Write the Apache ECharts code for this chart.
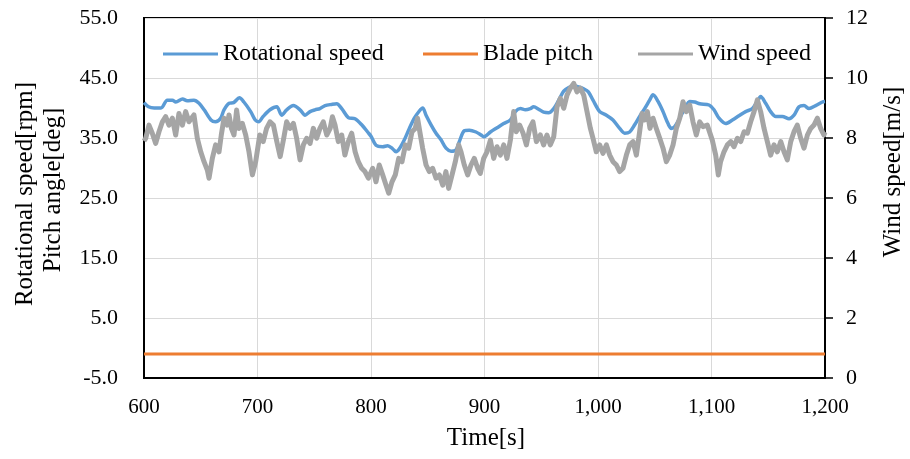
<!DOCTYPE html>
<html>
<head>
<meta charset="utf-8">
<script src="https://cdn.jsdelivr.net/npm/echarts@6/dist/echarts.min.js"></script>
<style>html,body{margin:0;padding:0;background:#fff;}#c{width:910px;height:459px;}</style>
</head>
<body>
<div id="c"></div>
<script>
// ---- data ----
var xTicks = [600, 700, 800, 900, 1000, 1100, 1200];
var leftTicks = [-5, 5, 15, 25, 35, 45, 55];
var rightTicks = [0, 2, 4, 6, 8, 10, 12];

var rotTime = [600,604,609,615,620.5,625,628,634,638,644,648.5,653,659,663,667.5,670.5,675,679,684,688,694,698,701,705,711,717,721.3,725.7,731.6,737.5,741.9,746.3,750.7,755,759.5,765.4,769.8,774.2,780,785.9,791.8,797,800,804.4,810.3,814.7,819.1,822,825,829.4,833.8,838.2,842.6,845.5,848.5,852.9,857.3,861.7,866.1,870.5,874.9,877.8,882.2,886.6,892.5,897,899.3,905.2,911,916.9,922.8,927.2,931.6,936,940.4,943.3,947.7,952.1,956.5,961,965.4,969.8,974.2,978.6,983,987.4,991.5,995.6,1001.5,1007.4,1013.2,1019.1,1023.5,1027.9,1032.3,1036.7,1041.1,1045.5,1048.5,1052.9,1057.3,1061.7,1064.6,1067.6,1072,1076.4,1080.8,1085.2,1089.6,1097.8,1102.2,1106.6,1112.5,1118.4,1124.2,1130.1,1136,1140.4,1143.3,1147.7,1152.1,1156.6,1162.4,1168.3,1172.7,1177.1,1181.5,1185.9,1191.8,1197.7,1200];
var rotSpeed = [40.9,40.2,40.0,40.0,41.3,41.3,41.0,41.5,41.2,41.3,40.8,39.7,38.0,37.7,38.3,39.7,40.8,40.9,41.7,41.0,39.4,38.0,37.7,38.6,39.7,40.2,38.8,39.7,40.4,39.7,38.8,39.4,39.7,39.9,40.4,40.6,40.7,39.9,38.4,38.2,37.2,36.0,35.3,33.8,33.55,33.7,33.2,32.7,33.2,34.7,36.6,38.3,39.5,40.0,38.8,37.2,35.8,34.7,33.3,32.8,33.0,34.4,36.2,36.3,36.0,35.5,35.2,36.0,36.7,37.4,38.0,39.4,39.9,39.7,39.9,40.2,39.8,39.3,39.2,39.9,41.3,42.8,43.4,43.7,43.5,43.2,42.7,41.3,39.4,38.8,38.0,36.6,35.8,36.0,37.2,38.6,39.9,41.3,42.2,41.1,39.4,37.4,36.6,36.9,38.3,39.9,41.1,41.0,40.7,40.5,39.7,38.3,37.4,38.0,38.7,39.4,39.9,41.1,41.9,40.8,39.4,38.6,38.6,38.2,38.8,40.2,40.4,39.9,40.4,41.0,41.1];

var pitchTime = [600, 700, 800, 900, 1000, 1100, 1200];
var pitchAngle = [-1.0, -1.0, -1.0, -1.0, -1.0, -1.0, -1.0];

var windTime = [600,601.5,604.4,607.3,610.3,613.2,616.2,619.1,622,625,627.9,630.8,633.8,636.7,639.6,644,647,650,652.9,655.8,657.3,660.2,663.1,666.1,668.1,670.5,673.4,674.9,677,679.3,681.6,683.7,686.6,689.6,692.5,695.5,698.4,702,705,708,711,714,717,720,722.8,725.7,728.6,731.6,734.5,737.5,740.4,743.3,746.3,749.2,752.1,755,758,761,764,766,768.3,771.2,774.2,777,780,783,786,788.8,791.8,794.7,797.7,801.5,804.4,807.3,810.3,813.2,815.6,818.5,821.4,824.4,827.3,830.3,833.2,836.1,839,841,843.5,845.5,848.5,851.4,854.3,857.3,860.2,863.2,866,868.4,871.4,874.3,877.2,879.3,882.2,885.2,888.1,891,894,896.3,899.3,902.2,905.2,908.1,911,914,916.9,919.8,922.8,925.7,928,931,934,936.9,939.8,942.7,945.7,949.2,952.1,955,958,961,963.9,966.8,969.8,972.7,975.6,978.6,981.5,984.5,987.4,990.3,993.3,995.6,998.5,1001.5,1004.4,1007.4,1010.3,1013.2,1016.2,1019.1,1022,1025,1027.9,1030.9,1033.8,1036.7,1038.8,1041.1,1043.5,1045.8,1048.5,1051.4,1054.4,1057.3,1060.2,1063.2,1066.1,1069,1072,1074.9,1077.8,1080.8,1083.7,1086.6,1089.6,1092.5,1096.3,1100.7,1103.7,1106,1108,1111,1114,1117,1119.8,1122.8,1125.7,1128.7,1131.6,1134.5,1137.5,1140.4,1143.3,1146.3,1149.2,1152.1,1155.1,1158,1161,1163.9,1166.8,1169.8,1172.7,1175.6,1178.6,1181.5,1184.5,1187.4,1190.3,1193.3,1196.2,1199,1200];
var windSpeed = [7.9,7.99,8.43,8.16,7.82,8.21,8.54,8.71,8.43,8.66,8.10,8.82,8.43,8.88,8.54,8.77,7.99,7.54,7.21,6.93,6.66,7.32,7.77,7.54,8.10,8.66,8.43,8.77,8.32,8.10,8.93,8.32,8.49,8.10,7.54,6.77,7.21,8.10,7.88,8.32,8.54,8.43,7.88,7.38,7.93,8.54,8.32,8.49,7.99,7.27,7.77,7.99,7.82,8.32,7.99,8.32,8.54,8.10,8.32,8.71,8.43,7.88,8.10,7.43,7.88,8.16,7.54,7.21,6.99,6.88,6.66,6.99,6.54,7.10,6.77,6.43,6.16,6.54,6.77,7.32,7.21,7.77,7.66,8.21,8.32,8.66,8.10,7.66,7.10,6.88,6.99,6.66,6.77,6.43,6.88,6.32,6.77,7.21,7.77,7.54,7.10,6.77,7.10,7.32,6.99,6.82,7.32,7.54,7.93,7.32,7.71,7.43,7.77,7.32,7.93,8.88,8.21,8.43,8.16,7.77,8.32,8.54,7.88,8.10,7.77,8.10,7.77,8.04,9.04,9.32,8.99,9.43,9.66,9.82,9.54,9.66,9.43,8.88,8.32,7.99,7.54,7.77,7.49,7.77,7.43,7.21,7.10,6.88,6.99,7.43,7.77,7.88,7.43,8.21,8.82,8.60,8.88,8.32,8.66,8.32,7.99,7.66,7.21,7.43,7.77,8.32,8.66,9.21,8.88,9.10,8.54,8.10,8.54,8.38,8.43,7.93,7.43,6.77,7.21,7.54,7.77,7.88,7.71,7.99,7.88,8.21,8.16,8.54,8.88,9.27,8.88,8.32,7.88,7.43,7.77,7.54,7.88,7.54,7.27,7.88,8.21,8.43,7.99,7.66,8.10,8.32,8.43,8.66,8.32,8.10,8.2];

function zip(a, b) { return a.map(function (v, i) { return [v, b[i]]; }); }

var FONT = 'Liberation Serif';
var chart = echarts.init(document.getElementById('c'), null, {renderer: 'canvas'});
var legendText = {fontFamily: FONT, fontSize: 24, color: '#000'};
function legendAt(name, left) {
  return {data: [name], left: left, top: 37, icon: 'rect', itemWidth: 55, itemHeight: 3,
    textStyle: legendText, selectedMode: false};
}
chart.setOption({
  animation: false,
  backgroundColor: '#fff',
  grid: {left: 144, right: 85, top: 18, bottom: 81, show: true, borderColor: '#000', borderWidth: 2},
  legend: [legendAt('Rotational speed', 158), legendAt('Blade pitch', 418), legendAt('Wind speed', 633)],
  xAxis: {
    type: 'value', min: xTicks[0], max: xTicks[xTicks.length - 1], interval: 100,
    axisLine: {show: true, onZero: false, lineStyle: {color: '#000', width: 2}},
    axisTick: {show: false},
    splitLine: {show: true, lineStyle: {color: '#d9d9d9', width: 1}},
    axisLabel: {margin: 19, fontFamily: FONT, fontSize: 21, color: '#000',
      formatter: function (v) { return v.toLocaleString('en-US'); }}
  },
  yAxis: [{
    type: 'value', min: leftTicks[0], max: leftTicks[leftTicks.length - 1], interval: 10,
    axisLine: {show: true, lineStyle: {color: '#000', width: 2}},
    axisTick: {show: false},
    splitLine: {show: true, lineStyle: {color: '#d9d9d9', width: 1}},
    axisLabel: {margin: 26, fontFamily: FONT, fontSize: 22, color: '#000',
      formatter: function (v) { return v.toFixed(1); }}
  }, {
    type: 'value', min: rightTicks[0], max: rightTicks[rightTicks.length - 1], interval: 2,
    position: 'right',
    axisLine: {show: true, lineStyle: {color: '#000', width: 2}},
    axisTick: {show: true, inside: false, length: 8, lineStyle: {color: '#000', width: 1.5}},
    splitLine: {show: false},
    axisLabel: {margin: 21, fontFamily: FONT, fontSize: 22, color: '#000'}
  }],
  graphic: [
    {type: 'text', x: 25, y: 194, rotation: Math.PI / 2,
      style: {text: 'Rotational speed[rpm]', fontFamily: FONT, fontSize: 25, fill: '#000', textAlign: 'center', textVerticalAlign: 'middle'}},
    {type: 'text', x: 53, y: 190, rotation: Math.PI / 2,
      style: {text: 'Pitch angle[deg]', fontFamily: FONT, fontSize: 25, fill: '#000', textAlign: 'center', textVerticalAlign: 'middle'}},
    {type: 'text', x: 893, y: 172, rotation: Math.PI / 2,
      style: {text: 'Wind speed[m/s]', fontFamily: FONT, fontSize: 25, fill: '#000', textAlign: 'center', textVerticalAlign: 'middle'}},
    {type: 'text', x: 486, y: 438,
      style: {text: 'Time[s]', fontFamily: FONT, fontSize: 25, fill: '#000', textAlign: 'center', textVerticalAlign: 'middle'}}
  ],
  series: [{
    name: 'Rotational speed', type: 'line', yAxisIndex: 0, data: zip(rotTime, rotSpeed),
    showSymbol: false, smooth: 0.3, lineStyle: {color: '#5b9bd5', width: 3.5}, itemStyle: {color: '#5b9bd5'}
  }, {
    name: 'Blade pitch', type: 'line', yAxisIndex: 0, data: zip(pitchTime, pitchAngle),
    showSymbol: false, lineStyle: {color: '#ed7d31', width: 3}, itemStyle: {color: '#ed7d31'}
  }, {
    name: 'Wind speed', type: 'line', yAxisIndex: 1, data: zip(windTime, windSpeed),
    showSymbol: false, lineStyle: {color: '#a5a5a5', width: 5, join: 'round'}, itemStyle: {color: '#a5a5a5'}
  }]
});
</script>
</body>
</html>
